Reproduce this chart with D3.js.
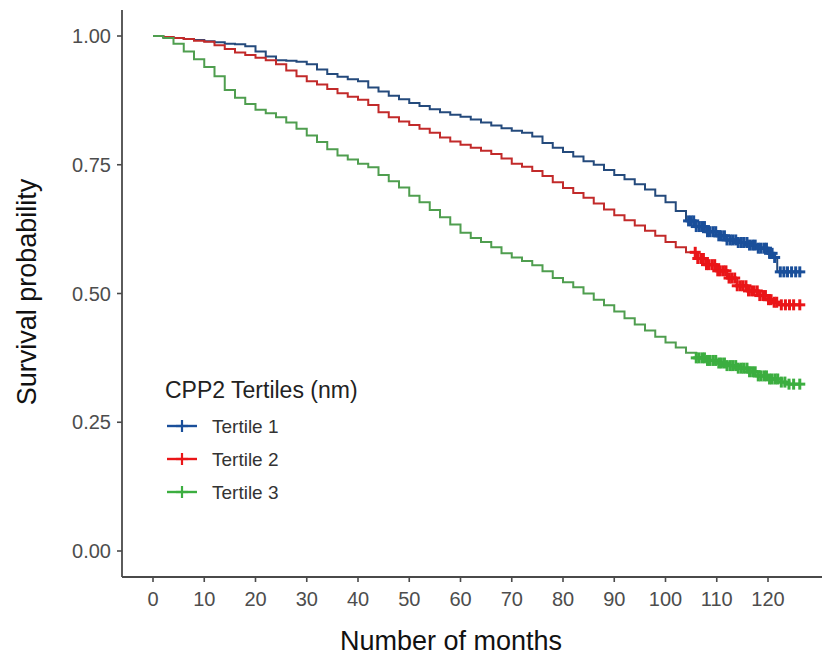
<!DOCTYPE html>
<html>
<head>
<meta charset="utf-8">
<script src="https://cdn.jsdelivr.net/npm/d3@7"></script>
<style>
  html, body { margin: 0; padding: 0; background: #fff; }
  svg { display: block; font-family: "Liberation Sans", Arial, sans-serif; }
</style>
</head>
<body>
<svg id="chart" width="822" height="658"></svg>
<script>
// ---------- data ----------
const seriesNames = ["Tertile 1", "Tertile 2", "Tertile 3"];
const lineColors = ["#244a7c", "#c22a2a", "#4f9e4f"];
const markColors = ["#1a4f9a", "#ea1518", "#3cae40"];
const legendTitle = "CPP2 Tertiles (nm)";
const xTicks = [0, 10, 20, 30, 40, 50, 60, 70, 80, 90, 100, 110, 120];
const yTicks = [0, 0.25, 0.5, 0.75, 1];
const yTickLabels = ["0.00", "0.25", "0.50", "0.75", "1.00"];
const xTitle = "Number of months";
const yTitle = "Survival probability";

const times = [0,2,4,6,8,10,12,14,16,18,20,22,24,26,28,30,32,34,36,38,40,42,44,46,48,50,52,54,56,58,60,62,64,66,68,70,72,74,76,78,80,82,84,86,88,90,92,94,96,98,100,102,104,106,108,110,112,114,116,118,120];

const survT1 = [1.000,0.998,0.996,0.994,0.992,0.990,0.988,0.985,0.984,0.980,0.970,0.960,0.953,0.952,0.950,0.945,0.935,0.926,0.921,0.916,0.912,0.900,0.892,0.884,0.877,0.870,0.864,0.858,0.852,0.847,0.843,0.838,0.832,0.826,0.821,0.816,0.812,0.805,0.792,0.783,0.775,0.766,0.757,0.750,0.740,0.730,0.722,0.712,0.702,0.690,0.677,0.660,0.641,0.630,0.620,0.612,0.604,0.599,0.594,0.588,0.578];
const survT2 = [1.000,0.998,0.996,0.994,0.991,0.989,0.982,0.975,0.968,0.963,0.958,0.953,0.945,0.933,0.922,0.912,0.906,0.897,0.889,0.882,0.876,0.866,0.852,0.842,0.834,0.827,0.820,0.812,0.803,0.795,0.789,0.783,0.777,0.771,0.762,0.752,0.746,0.738,0.728,0.716,0.705,0.695,0.686,0.675,0.663,0.652,0.642,0.632,0.622,0.612,0.600,0.590,0.580,0.568,0.556,0.544,0.530,0.515,0.505,0.496,0.488];
const survT3 = [1.000,0.996,0.985,0.970,0.955,0.940,0.922,0.895,0.880,0.868,0.857,0.850,0.842,0.832,0.820,0.807,0.794,0.780,0.768,0.760,0.752,0.745,0.730,0.718,0.706,0.690,0.677,0.662,0.648,0.634,0.618,0.608,0.600,0.590,0.578,0.570,0.563,0.555,0.543,0.530,0.522,0.512,0.500,0.488,0.477,0.465,0.452,0.440,0.428,0.416,0.405,0.395,0.385,0.375,0.370,0.365,0.360,0.355,0.348,0.340,0.334];

// tail steps after 120 months: [time, survival]
const tailT1 = [[121,0.570],[121.8,0.542],[126.2,0.542]];
const tailT2 = [[121,0.483],[122,0.478],[126.2,0.478]];
const tailT3 = [[122,0.328],[124,0.324],[126.2,0.324]];

// censoring times (months)
const censT1 = [104.5,105.0,105.5,106.0,106.6,107.1,107.6,108.2,108.7,109.3,109.8,110.4,110.9,111.5,112.0,112.6,113.1,113.7,114.2,114.8,115.3,115.9,116.4,117.0,117.5,118.1,118.6,119.2,119.7,120.3,120.8,121.3,122.4,123.1,123.8,124.6,125.4,126.2];
const censT2 = [105.8,106.3,106.9,107.4,108.0,108.5,109.1,109.6,110.2,110.7,111.3,111.8,112.4,112.9,113.5,114.0,114.6,115.1,115.7,116.2,116.8,117.3,117.9,118.4,119.0,119.5,120.1,120.6,121.2,121.7,122.6,123.4,124.2,125.0,126.2];
const censT3 = [106.0,106.5,107.1,107.6,108.2,108.7,109.3,109.8,110.4,110.9,111.5,112.0,112.6,113.1,113.7,114.2,114.8,115.3,115.9,116.4,117.0,117.5,118.1,118.6,119.2,119.7,120.3,120.8,121.4,121.9,122.6,123.3,124.1,125.0,126.2];

// ---------- layout ----------
const svg = d3.select("#chart");
const panel = { left: 122, top: 10, bottom: 577, right: 822 };

const x = d3.scaleLinear().domain([0, 120]).range([153, 768]);
const y = d3.scaleLinear().domain([0, 1]).range([551, 36]);

function buildSeries(surv, tail) {
  const pts = times.map((t, i) => [t, surv[i]]);
  return pts.concat(tail);
}
const series = [
  { name: seriesNames[0], color: lineColors[0], mark: markColors[0], pts: buildSeries(survT1, tailT1), cens: censT1 },
  { name: seriesNames[1], color: lineColors[1], mark: markColors[1], pts: buildSeries(survT2, tailT2), cens: censT2 },
  { name: seriesNames[2], color: lineColors[2], mark: markColors[2], pts: buildSeries(survT3, tailT3), cens: censT3 }
];

function survAt(pts, t) {
  let s = pts[0][1];
  for (const p of pts) { if (p[0] <= t) s = p[1]; else break; }
  return s;
}

const axisColor = "#4a4a4a";
const tickTextColor = "#4d4d4d";

// axes lines
svg.append("line").attr("x1", panel.left).attr("x2", panel.left)
  .attr("y1", panel.top).attr("y2", panel.bottom)
  .attr("stroke", axisColor).attr("stroke-width", 1.8);
svg.append("line").attr("x1", panel.left).attr("x2", panel.right)
  .attr("y1", panel.bottom).attr("y2", panel.bottom)
  .attr("stroke", axisColor).attr("stroke-width", 1.8);

// y ticks
const yAxisG = svg.append("g");
yTicks.forEach((v, i) => {
  yAxisG.append("line").attr("x1", panel.left - 5).attr("x2", panel.left)
    .attr("y1", y(v)).attr("y2", y(v)).attr("stroke", axisColor).attr("stroke-width", 1.6);
  yAxisG.append("text").attr("x", panel.left - 11).attr("y", y(v))
    .attr("dy", "0.36em").attr("text-anchor", "end")
    .attr("font-size", 20).attr("fill", tickTextColor).text(yTickLabels[i]);
});

// x ticks
const xAxisG = svg.append("g");
xTicks.forEach(v => {
  xAxisG.append("line").attr("x1", x(v)).attr("x2", x(v))
    .attr("y1", panel.bottom).attr("y2", panel.bottom + 5).attr("stroke", axisColor).attr("stroke-width", 1.6);
  xAxisG.append("text").attr("x", x(v)).attr("y", panel.bottom + 29)
    .attr("text-anchor", "middle")
    .attr("font-size", 20).attr("fill", tickTextColor).text(v);
});

// axis titles
svg.append("text").attr("x", 451).attr("y", 650)
  .attr("text-anchor", "middle").attr("font-size", 27).attr("fill", "#111").text(xTitle);
svg.append("text").attr("transform", "translate(36,292) rotate(-90)")
  .attr("text-anchor", "middle").attr("font-size", 27).attr("fill", "#111").text(yTitle);

// curves
const line = d3.line().x(d => x(d[0])).y(d => y(d[1])).curve(d3.curveStepAfter);
series.forEach(s => {
  svg.append("path").datum(s.pts).attr("d", line)
    .attr("fill", "none").attr("stroke", s.color).attr("stroke-width", 2);
});

// censor marks
function plus(g, cx, cy, arm, color, sw) {
  g.append("line").attr("x1", cx - arm).attr("x2", cx + arm).attr("y1", cy).attr("y2", cy)
    .attr("stroke", color).attr("stroke-width", sw);
  g.append("line").attr("x1", cx).attr("x2", cx).attr("y1", cy - arm).attr("y2", cy + arm)
    .attr("stroke", color).attr("stroke-width", sw);
}
series.forEach(s => {
  const g = svg.append("g");
  s.cens.forEach(t => plus(g, x(t), y(survAt(s.pts, t)), 5.5, s.mark, 3));
});

// legend
const lg = svg.append("g");
lg.append("text").attr("x", 165).attr("y", 398).attr("font-size", 23).attr("fill", "#222").text(legendTitle);
const legendY = [426, 459, 492];
series.forEach((s, i) => {
  const cy = legendY[i];
  lg.append("line").attr("x1", 167).attr("x2", 197).attr("y1", cy).attr("y2", cy)
    .attr("stroke", s.mark).attr("stroke-width", 2.4);
  plus(lg, 182, cy, 6, s.mark, 2.2);
  lg.append("text").attr("x", 212).attr("y", cy).attr("dy", "0.36em")
    .attr("font-size", 19).attr("fill", "#333").text(s.name);
});
</script>
</body>
</html>
